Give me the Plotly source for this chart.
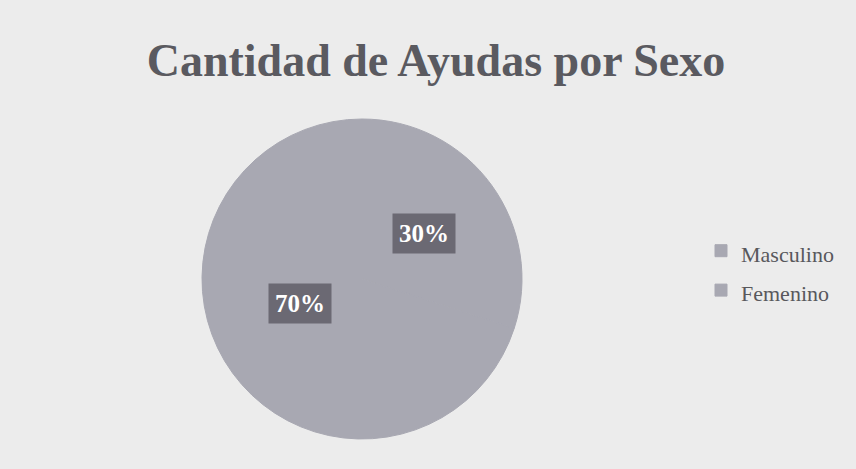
import math
import plotly.graph_objects as go

categories = ["Masculino", "Femenino"]
values = [30, 70]
colors = ["#a8a8b2", "#a8a8b2"]

W, H = 856, 469
cx_px, cy_px, r_px = 362, 279, 160  # pie center / radius in pixels (from top-left)

legend_labels = [f"<span style='font-size:22px'>{c}</span>" for c in categories]

fig = go.Figure()
fig.add_trace(go.Pie(
    labels=legend_labels, values=values, sort=False, direction="clockwise",
    rotation=0, textinfo="none", hoverinfo="label+percent",
    marker=dict(colors=colors, line=dict(width=1, color="#a8a8b2")),
    domain=dict(x=[(cx_px - r_px) / W, (cx_px + r_px) / W],
                y=[(H - cy_px - r_px) / H, (H - cy_px + r_px) / H]),
))

# data labels with dark boxes, placed along each slice's bisector
total = sum(values)
cum = 0
for v in values:
    mid = (cum + v / 2) / total * 2 * math.pi
    cum += v
    frac = 0.48
    x = (cx_px + math.sin(mid) * r_px * frac) / W
    y = (H - cy_px + math.cos(mid) * r_px * frac) / H
    fig.add_annotation(
        x=x, y=y, xref="paper", yref="paper", showarrow=False,
        text=f"<b>{round(v / total * 100)}%</b>",
        font=dict(family="Liberation Serif", size=25, color="#ffffff"),
        bgcolor="#6b6973", borderpad=6,
    )

fig.update_layout(
    width=W, height=H,
    margin=dict(l=0, r=0, t=0, b=0),
    paper_bgcolor="#ececec", plot_bgcolor="#ececec",
    title=dict(text="<b>Cantidad de Ayudas por Sexo</b>", x=436 / W, xanchor="center",
               y=1 - 60 / H, yanchor="middle",
               font=dict(family="Liberation Serif", size=46, color="#5a5a60")),
    legend=dict(x=701 / W, y=1 - 226 / H, xanchor="left", yanchor="top",
                font=dict(family="Liberation Serif", size=28, color="#58585c"),
                bgcolor="rgba(0,0,0,0)", itemwidth=30),
    showlegend=True,
)

fig.write_html("out.html", config={"displayModeBar": False},
               post_script="document.body.style.margin='0';")
